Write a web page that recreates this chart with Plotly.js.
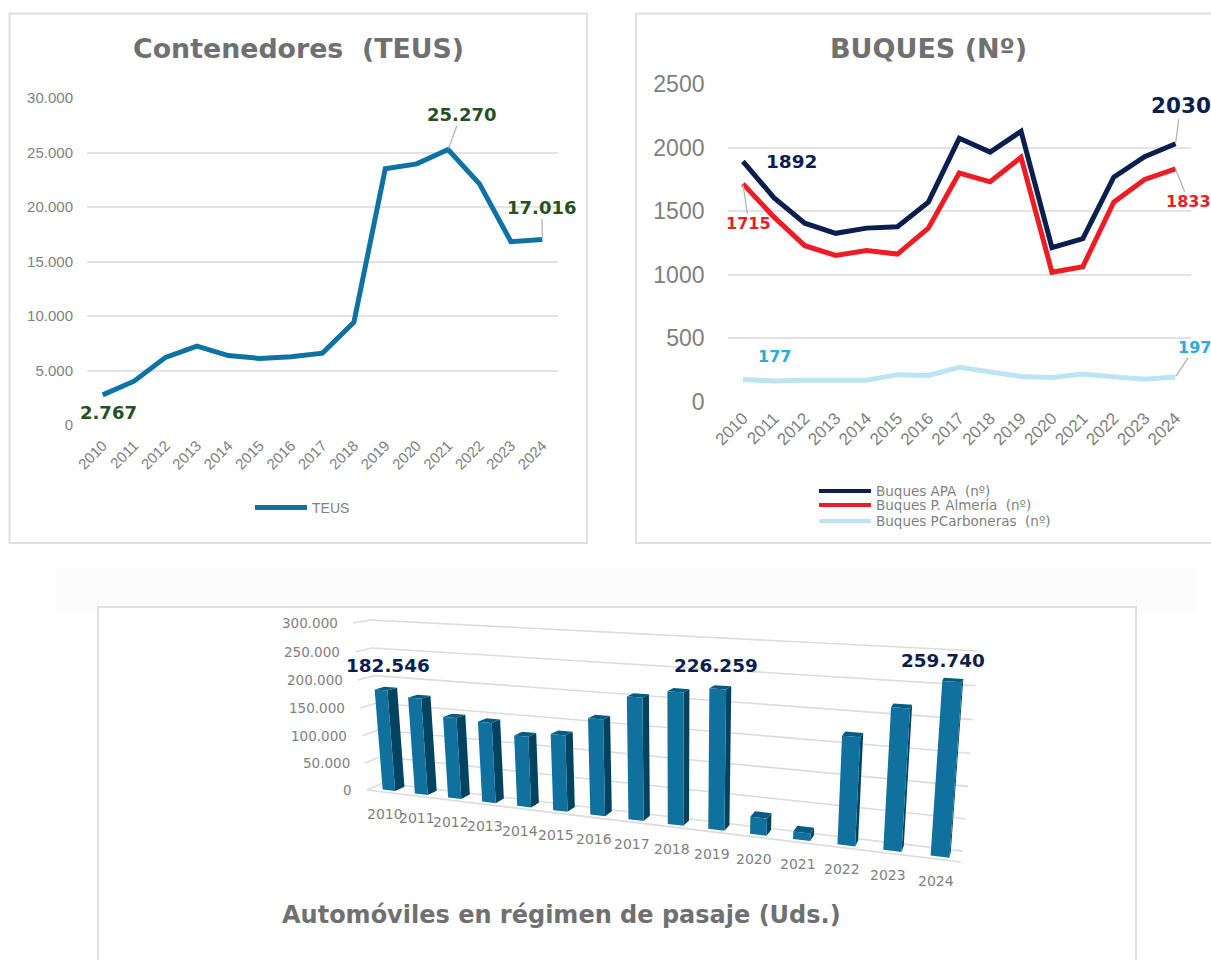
<!DOCTYPE html>
<html><head><meta charset="utf-8">
<script src="https://cdn.plot.ly/plotly-3.0.1.min.js"></script>
<style>html,body{margin:0;padding:0;background:#fff;overflow:hidden}#c{width:1211px;height:960px}</style>
</head><body><div id="c"></div>
<script>
const years = ['2010','2011','2012','2013','2014','2015','2016','2017','2018','2019','2020','2021','2022','2023','2024'];
const teus = [2767,4019,6206,7235,6367,6109,6270,6592,9421,23505,23955,25270,22122,16817,17016];
const buquesAPA = [1892,1607,1406,1326,1367,1378,1571,2073,1965,2128,1213,1284,1767,1929,2030];
const buquesAlmeria = [1715,1455,1229,1152,1191,1163,1367,1800,1731,1924,1020,1064,1571,1750,1833];
const buquesCarboneras = [177,165,171,171,171,215,209,273,237,201,193,220,198,179,197];
const autos = [182546,173000,144000,141000,123000,131000,163000,204000,217000,226259,28000,12000,169000,217000,259740];
const autoTicks = [0,50000,100000,150000,200000,250000,300000];
const autoTickText = ['0','50.000','100.000','150.000','200.000','250.000','300.000'];
const buquesNames = ['Buques APA  (nº)','Buques P. Almería  (nº)','Buques PCarboneras  (nº)'];

const W=1211,H=960;
const fx=p=>p/W, fy=p=>1-p/H;
const GRAY='#7f7f7f', TITLE='#707070', GRID='#e3e3e3', GREEN='#27501f', NAVY='#0a1f4f', RED='#ee1c25', SKY='#29abe2', LEAD='#b3b3b3', PALE='#bde4f5';
const SANS='"DejaVu Sans",Verdana,sans-serif', ARIAL='"Liberation Sans",Arial,sans-serif';

/* oblique 3-D view of the bottom chart: u along the years, v in depth, w up the value axis */
function view(u,v,w){
  const d=1-0.2*u+0.025*v-0.035*w;
  return [(367+401.8*u+25.6*v+(-26.4+4.6*u)*w)/d,(790-100.4*u+12.6*v+(-188.8+0.9*u)*w)/d];
}
const MAXV=300000, HALF=0.013, VF=0.25, VB=0.85;
function poly(pts,xs,ys){pts.forEach(p=>{const q=view(p[0],p[1],p[2]);xs.push(q[0]);ys.push(q[1]);});const q=view(pts[0][0],pts[0][1],pts[0][2]);xs.push(q[0],null);ys.push(q[1],null);}
function line(a,b,xs,ys){const p=view(...a),q=view(...b);xs.push(p[0],q[0],null);ys.push(p[1],q[1],null);}
const gx=[],gy=[];
autoTicks.forEach(t=>{const w=t/MAXV;line([0,0,w],[0,1,w],gx,gy);line([0,1,w],[1,1,w],gx,gy);});
line([0,0,0],[1,0,0],gx,gy);
const fr={x:[],y:[]},sd={x:[],y:[]},tp={x:[],y:[]};
const uOf=i=>(i+0.5)/15+0.004;
autos.forEach((val,i)=>{
  const u=uOf(i),w=val/MAXV,a=u-HALF,b=u+HALF;
  poly([[b,VF,0],[b,VB,0],[b,VB,w],[b,VF,w]],sd.x,sd.y);
  poly([[a,VF,w],[b,VF,w],[b,VB,w],[a,VB,w]],tp.x,tp.y);
  poly([[a,VF,0],[b,VF,0],[b,VF,w],[a,VF,w]],fr.x,fr.y);
});
const poly3=(d,c)=>({type:'scatter',xaxis:'x3',yaxis:'y3',x:d.x,y:d.y,mode:'lines',fill:'toself',fillcolor:c,line:{width:0,color:c},hoverinfo:'skip',showlegend:false});

const data=[
 {type:'scatter',name:'TEUS',x:years,y:teus,xaxis:'x',yaxis:'y',mode:'lines',line:{color:'#0e73a3',width:5},legend:'legend'},
 {type:'scatter',name:buquesNames[0],x:years,y:buquesAPA,xaxis:'x2',yaxis:'y2',mode:'lines',line:{color:NAVY,width:5},showlegend:false},
 {type:'scatter',name:buquesNames[1],x:years,y:buquesAlmeria,xaxis:'x2',yaxis:'y2',mode:'lines',line:{color:RED,width:5},showlegend:false},
 {type:'scatter',name:buquesNames[2],x:years,y:buquesCarboneras,xaxis:'x2',yaxis:'y2',mode:'lines',line:{color:PALE,width:5},showlegend:false},
 {type:'scatter',xaxis:'x3',yaxis:'y3',x:gx,y:gy,mode:'lines',line:{color:'#dcdcdc',width:1.6},hoverinfo:'skip',showlegend:false},
 poly3(sd,'#03435f'),poly3(tp,'#045c80'),poly3(fr,'#10719f')
];

const catAxis=(dom,anchor,size,off)=>({domain:dom,anchor:anchor,type:'category',range:[-0.5,14.5],tickangle:-45,tickfont:{family:ARIAL,size:size,color:GRAY},ticklabelstandoff:off,showgrid:false,zeroline:false,showline:false,ticks:'',tickmode:'array',tickvals:years,ticktext:years});
const valAxis=(dom,anchor,range,dt,size,fmt,off)=>({domain:dom,anchor:anchor,range:range,dtick:dt,tickformat:fmt,tickfont:{family:ARIAL,size:size,color:GRAY},ticklabelstandoff:off,gridcolor:GRID,gridwidth:2,zeroline:false,showline:false,ticks:'',ticklen:0});

const ann=[];
const title=(t,x,y,s)=>ann.push({xref:'paper',yref:'paper',x:fx(x),y:fy(y),text:t,showarrow:false,font:{family:SANS,size:s,color:TITLE,weight:700},xanchor:'center',yanchor:'middle'});
title('Contenedores  (TEUS)',298,49,26.8);
title('BUQUES (Nº)',928,49,27);
title('Automóviles en régimen de pasaje (Uds.)',561,915,24);

const lab=(xa,ya,xv,yv,t,c,s,dx,dy,lead)=>ann.push(Object.assign({xref:xa,yref:ya,x:xv,y:yv,text:'<b>'+t+'</b>',font:{family:SANS,size:s,color:c}},
  lead?{showarrow:true,arrowhead:0,arrowwidth:1.3,arrowcolor:LEAD,ax:dx,ay:dy,axref:'pixel',ayref:'pixel',standoff:1,borderpad:0}:{showarrow:false,xshift:dx,yshift:-dy}));
lab('x','y',0,teus[0],'2.767',GREEN,18,6,18,false);
lab('x','y',11,teus[11],'25.270',GREEN,18,13,-35,true);
lab('x','y',14,teus[14],'17.016',GREEN,18,-0.5,-32,true);
lab('x2','y2',0,buquesAPA[0],'1892',NAVY,18.5,49,0,false);
lab('x2','y2',14,buquesAPA[14],'2030',NAVY,21.5,5,-38,true);
lab('x2','y2',0,buquesAlmeria[0],'1715',RED,16,6,40,true);
lab('x2','y2',14,buquesAlmeria[14],'1833',RED,16,13,33,true);
lab('x2','y2',0,buquesCarboneras[0],'177',SKY,16,32,-23,false);
lab('x2','y2',14,buquesCarboneras[14],'197',SKY,16,19,-29,true);

autoTickText.forEach((t,k)=>{const p=view(0,0,autoTicks[k]/MAXV);
  ann.push({xref:'x3',yref:'y3',x:p[0]-13,y:p[1],text:t,showarrow:false,xanchor:'right',yanchor:'middle',font:{family:SANS,size:13.5,color:GRAY}});});
years.forEach((t,i)=>{const p=view(uOf(i),VF,0);
  ann.push({xref:'x3',yref:'y3',x:p[0]-4,y:p[1]+24,text:t,showarrow:false,xanchor:'center',yanchor:'middle',font:{family:SANS,size:14,color:GRAY}});});
[[0,'182.546',2,-23],[9,'226.259',-4,-22],[14,'259.740',-10,-20]].forEach(a=>{const u=uOf(a[0]),p=view(u,(VF+VB)/2,autos[a[0]]/MAXV);
  ann.push({xref:'x3',yref:'y3',x:p[0]+a[2],y:p[1]+a[3],text:'<b>'+a[1]+'</b>',showarrow:false,font:{family:SANS,size:18.4,color:NAVY}});});

const box=(x0,y0,x1,y1,fill,lc)=>({type:'rect',xref:'paper',yref:'paper',x0:fx(x0),x1:fx(x1),y0:fy(y0),y1:fy(y1),fillcolor:fill,line:{color:lc,width:lc==='rgba(0,0,0,0)'?0:2},layer:'below'});
const shapes=[box(55,568,1196,612,'#fbfbfb','rgba(0,0,0,0)'),box(9.5,13.5,587,543,'#fff','#e0e0e0'),box(636,13.5,1216,543,'#fff','#e0e0e0'),box(98,607,1136,966,'#fff','#e0e0e0')];
[[491,NAVY],[505,RED],[521,PALE]].forEach((r,k)=>{
  shapes.push({type:'line',xref:'paper',yref:'paper',x0:fx(819),x1:fx(871),y0:fy(r[0]),y1:fy(r[0]),line:{color:r[1],width:4}});
  ann.push({xref:'paper',yref:'paper',x:fx(874),y:fy(r[0]),text:buquesNames[k],showarrow:false,xanchor:'left',yanchor:'middle',font:{family:SANS,size:13.5,color:GRAY}});
});

const layout={
 width:W,height:H,margin:{l:0,r:0,t:0,b:0},paper_bgcolor:'#fff',plot_bgcolor:'rgba(0,0,0,0)',separators:',.',hovermode:false,
 showlegend:true,
 xaxis:catAxis([fx(87),fx(558)],'y',15,8),
 yaxis:valAxis([fy(425),fy(98)],'x',[0,30000],5000,15,',d',13),
 xaxis2:catAxis([fx(727.5),fx(1191)],'y2',17,2),
 yaxis2:valAxis([fy(402),fy(84)],'x2',[0,2500],500,23,'d',22),
 xaxis3:{domain:[0,1],anchor:'y3',range:[0,W],visible:false,fixedrange:true},
 yaxis3:{domain:[0,1],anchor:'x3',range:[H,0],visible:false,fixedrange:true},
 legend:{x:fx(250),y:fy(508),xanchor:'left',yanchor:'middle',itemwidth:52,font:{family:ARIAL,size:14,color:GRAY},bgcolor:'rgba(0,0,0,0)'},
 annotations:ann,
 shapes:shapes
};
Plotly.newPlot('c',data,layout,{displayModeBar:false,staticPlot:true});
</script></body></html>
